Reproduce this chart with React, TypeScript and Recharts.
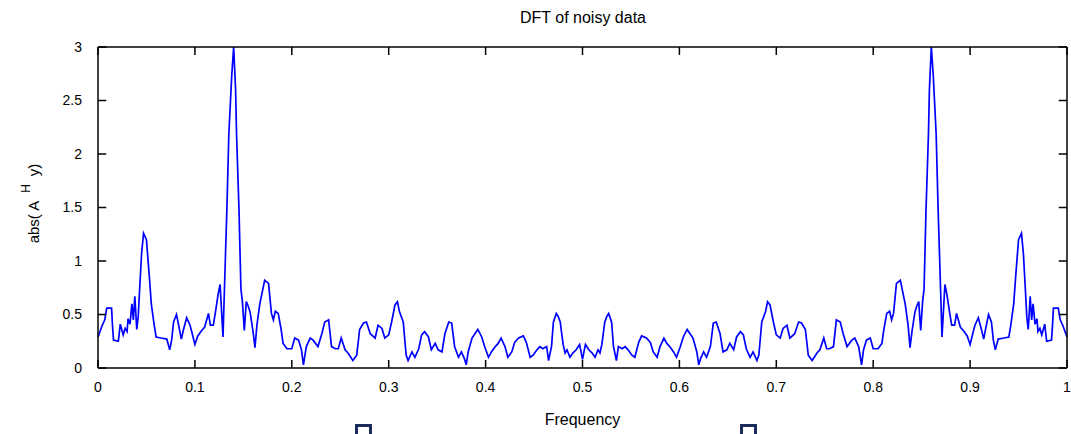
import React from 'react'
import { LineChart, Line, XAxis, YAxis, ReferenceLine } from 'recharts'

// left half of the spectrum (0 .. 0.5)
const freqLeft = [
  0.000, 0.004, 0.007, 0.009, 0.014, 0.015, 0.016, 0.021, 0.023, 0.026,
  0.028, 0.030, 0.031, 0.033, 0.035, 0.0365, 0.038, 0.040, 0.0415, 0.043,
  0.045, 0.047, 0.050, 0.053, 0.055, 0.058, 0.060, 0.065, 0.071, 0.074,
  0.076, 0.078, 0.081, 0.083, 0.086, 0.088, 0.0915, 0.095, 0.097, 0.100,
  0.103, 0.107, 0.110, 0.114, 0.116, 0.119, 0.121, 0.124, 0.126, 0.129,
  0.131, 0.133, 0.135, 0.138, 0.140, 0.142, 0.143, 0.1455, 0.1475, 0.149,
  0.151, 0.153, 0.155, 0.157, 0.160, 0.162, 0.164, 0.167, 0.172, 0.176,
  0.179, 0.181, 0.183, 0.186, 0.189, 0.191, 0.195, 0.200, 0.203, 0.207,
  0.210, 0.212, 0.215, 0.219, 0.222, 0.227, 0.231, 0.234, 0.238, 0.241,
  0.245, 0.248, 0.251, 0.255, 0.258, 0.263, 0.267, 0.270, 0.274, 0.277,
  0.281, 0.286, 0.289, 0.293, 0.296, 0.300, 0.303, 0.3065, 0.309, 0.311,
  0.315, 0.318, 0.320, 0.324, 0.327, 0.331, 0.334, 0.337, 0.341, 0.344,
  0.348, 0.351, 0.355, 0.358, 0.362, 0.365, 0.368, 0.372, 0.375, 0.378,
  0.380, 0.382, 0.386, 0.389, 0.392, 0.396, 0.399, 0.403, 0.406, 0.410,
  0.413, 0.416, 0.420, 0.423, 0.427, 0.430, 0.434, 0.439, 0.442, 0.446,
  0.449, 0.453, 0.456, 0.459, 0.463, 0.465, 0.468, 0.470, 0.473, 0.475,
  0.477, 0.480, 0.482, 0.484, 0.487, 0.490, 0.4935, 0.497, 0.500,
]
const absLeft = [
  0.29, 0.39, 0.45, 0.56, 0.56, 0.39, 0.26, 0.25, 0.41, 0.31,
  0.37, 0.34, 0.46, 0.41, 0.60, 0.45, 0.67, 0.36, 0.48, 0.74,
  1.07, 1.26, 1.20, 0.85, 0.60, 0.40, 0.29, 0.28, 0.27, 0.17,
  0.26, 0.43, 0.50, 0.41, 0.27, 0.35, 0.47, 0.40, 0.33, 0.22,
  0.30, 0.35, 0.38, 0.51, 0.40, 0.40, 0.51, 0.69, 0.78, 0.29,
  0.89, 1.48, 2.18, 2.73, 3.00, 2.60, 2.18, 1.48, 0.74, 0.62,
  0.35, 0.62, 0.58, 0.52, 0.34, 0.19, 0.40, 0.60, 0.82, 0.79,
  0.51, 0.45, 0.53, 0.51, 0.36, 0.23, 0.18, 0.18, 0.28, 0.26,
  0.17, 0.03, 0.20, 0.28, 0.26, 0.20, 0.32, 0.43, 0.45, 0.20,
  0.18, 0.18, 0.28, 0.17, 0.14, 0.07, 0.12, 0.36, 0.42, 0.43,
  0.32, 0.28, 0.40, 0.37, 0.28, 0.31, 0.43, 0.59, 0.62, 0.53,
  0.43, 0.12, 0.07, 0.15, 0.10, 0.18, 0.31, 0.34, 0.29, 0.17,
  0.23, 0.17, 0.15, 0.32, 0.43, 0.42, 0.20, 0.10, 0.15, 0.09,
  0.03, 0.15, 0.28, 0.32, 0.36, 0.29, 0.20, 0.10, 0.15, 0.20,
  0.23, 0.28, 0.20, 0.10, 0.15, 0.24, 0.28, 0.30, 0.24, 0.10,
  0.12, 0.17, 0.20, 0.18, 0.20, 0.07, 0.20, 0.43, 0.51, 0.48,
  0.43, 0.22, 0.14, 0.17, 0.10, 0.14, 0.17, 0.22, 0.08,
]

// right half (0.5 .. 1), the mirror image as seen in the plot
const freqRight = [
  0.503, 0.5065, 0.510, 0.513, 0.516, 0.518, 0.520, 0.523, 0.525, 0.527,
  0.530, 0.532, 0.535, 0.537, 0.541, 0.544, 0.547, 0.551, 0.554, 0.558,
  0.561, 0.566, 0.570, 0.573, 0.577, 0.580, 0.584, 0.587, 0.590, 0.594,
  0.597, 0.601, 0.604, 0.608, 0.611, 0.614, 0.618, 0.620, 0.622, 0.625,
  0.628, 0.632, 0.635, 0.638, 0.642, 0.645, 0.649, 0.652, 0.656, 0.659,
  0.663, 0.666, 0.669, 0.673, 0.676, 0.680, 0.682, 0.685, 0.689, 0.691,
  0.6935, 0.697, 0.700, 0.704, 0.707, 0.711, 0.714, 0.719, 0.723, 0.726,
  0.730, 0.733, 0.737, 0.742, 0.745, 0.749, 0.752, 0.755, 0.759, 0.762,
  0.766, 0.769, 0.773, 0.778, 0.781, 0.785, 0.788, 0.790, 0.793, 0.797,
  0.800, 0.805, 0.809, 0.811, 0.814, 0.817, 0.819, 0.821, 0.824, 0.828,
  0.833, 0.836, 0.838, 0.840, 0.843, 0.845, 0.847, 0.849, 0.851, 0.8525,
  0.8545, 0.857, 0.858, 0.860, 0.862, 0.865, 0.867, 0.869, 0.871, 0.874,
  0.876, 0.879, 0.881, 0.884, 0.886, 0.890, 0.893, 0.897, 0.900, 0.903,
  0.905, 0.9085, 0.912, 0.914, 0.917, 0.919, 0.922, 0.924, 0.926, 0.929,
  0.935, 0.940, 0.942, 0.945, 0.947, 0.950, 0.953, 0.955, 0.957, 0.9585,
  0.960, 0.962, 0.9635, 0.965, 0.967, 0.969, 0.970, 0.972, 0.974, 0.977,
  0.979, 0.984, 0.985, 0.986, 0.991, 0.993, 0.996, 1.000,
]
const absRight = [
  0.22, 0.17, 0.14, 0.10, 0.17, 0.14, 0.22, 0.43, 0.48, 0.51,
  0.43, 0.20, 0.07, 0.20, 0.18, 0.20, 0.17, 0.12, 0.10, 0.24,
  0.30, 0.28, 0.24, 0.15, 0.10, 0.20, 0.28, 0.23, 0.20, 0.15,
  0.10, 0.20, 0.29, 0.36, 0.32, 0.28, 0.15, 0.03, 0.09, 0.15,
  0.10, 0.20, 0.42, 0.43, 0.32, 0.15, 0.17, 0.23, 0.17, 0.29,
  0.34, 0.31, 0.18, 0.10, 0.15, 0.07, 0.12, 0.43, 0.53, 0.62,
  0.59, 0.43, 0.31, 0.28, 0.37, 0.40, 0.28, 0.32, 0.43, 0.42,
  0.36, 0.12, 0.07, 0.14, 0.17, 0.28, 0.18, 0.18, 0.20, 0.45,
  0.43, 0.32, 0.20, 0.26, 0.28, 0.20, 0.03, 0.17, 0.26, 0.28,
  0.18, 0.18, 0.23, 0.36, 0.51, 0.53, 0.45, 0.51, 0.79, 0.82,
  0.60, 0.40, 0.19, 0.34, 0.52, 0.58, 0.62, 0.35, 0.62, 0.74,
  1.48, 2.18, 2.60, 3.00, 2.73, 2.18, 1.48, 0.89, 0.29, 0.78,
  0.69, 0.51, 0.40, 0.40, 0.51, 0.38, 0.35, 0.30, 0.22, 0.33,
  0.40, 0.47, 0.35, 0.27, 0.41, 0.50, 0.43, 0.26, 0.17, 0.27,
  0.28, 0.29, 0.40, 0.60, 0.85, 1.20, 1.26, 1.07, 0.74, 0.48,
  0.36, 0.67, 0.45, 0.60, 0.41, 0.46, 0.34, 0.37, 0.31, 0.41,
  0.25, 0.26, 0.39, 0.56, 0.56, 0.45, 0.39, 0.29,
]

const xTicks = [0, 0.1, 0.2, 0.3, 0.4, 0.5, 0.6, 0.7, 0.8, 0.9, 1]
const yTicks = [0, 0.5, 1, 1.5, 2, 2.5, 3]

const freqs = [...freqLeft, ...freqRight]
const mags = [...absLeft, ...absRight]
const data = freqs.map((f, i) => ({ freq: f, mag: mags[i] }))

const FONT = '"Liberation Sans", Arial, Helvetica, sans-serif'
// inward tick length, in data units (about 8px each way)
const TICK_DX = 0.0085
const TICK_DY = 0.075

const YLabel = ({ viewBox }: any) => {
  const cx = 39
  const cy = viewBox.y + viewBox.height / 2 - 4
  return (
    <text
      x={cx}
      y={cy}
      transform={`rotate(-90, ${cx}, ${cy})`}
      textAnchor="middle"
      fontSize={15}
      fontFamily={FONT}
      fill="#000"
    >
      abs( A
      <tspan dx={8} dy={-9} fontSize={12}>H</tspan>
      <tspan dx={8} dy={9}>y)</tspan>
    </text>
  )
}

const XLabel = ({ viewBox }: any) => (
  <text
    x={viewBox.x + viewBox.width / 2}
    y={viewBox.y + 57}
    textAnchor="middle"
    fontSize={16}
    fontFamily={FONT}
    fill="#000"
  >
    Frequency
  </text>
)

const squareStyle: React.CSSProperties = {
  position: 'absolute',
  top: 424,
  width: 11,
  height: 14,
  border: '3px solid #1b2b5c',
  background: '#fff',
}

const boxProps = { stroke: '#000', strokeWidth: 1.5, ifOverflow: 'visible' as const }

export default function App() {
  return (
    <div
      style={{
        position: 'absolute',
        left: 0,
        top: 0,
        width: 1071,
        height: 434,
        overflow: 'hidden',
        background: '#fff',
        fontFamily: FONT,
      }}
    >
      <div
        style={{
          position: 'absolute',
          left: 0,
          width: 1166,
          top: 9,
          textAlign: 'center',
          fontSize: 16,
          color: '#000',
        }}
      >
        DFT of noisy data
      </div>
      <LineChart
        width={1071}
        height={434}
        data={data}
        margin={{ top: 47, right: 4, bottom: 6, left: 38 }}
      >
        <XAxis
          dataKey="freq"
          type="number"
          domain={[0, 1]}
          ticks={xTicks}
          height={60}
          stroke="#000"
          strokeWidth={1.5}
          tickLine={false}
          tickMargin={8}
          tick={{ fontSize: 14, fontFamily: FONT, fill: '#000' }}
          label={<XLabel />}
        />
        <YAxis
          type="number"
          domain={[0, 3]}
          ticks={yTicks}
          width={60}
          stroke="#000"
          strokeWidth={1.5}
          tickLine={false}
          tickMargin={10}
          tick={{ fontSize: 14, fontFamily: FONT, fill: '#000' }}
          label={<YLabel />}
        />
        <Line
          type="linear"
          dataKey="mag"
          stroke="#0000ff"
          strokeWidth={1.7}
          dot={false}
          isAnimationActive={false}
        />
        {/* box: top and right edges */}
        <ReferenceLine y={3} {...boxProps} />
        <ReferenceLine x={1} {...boxProps} />
        {/* inward tick marks on all four sides */}
        {xTicks.map((t) => (
          <ReferenceLine
            key={`tb${t}`}
            segment={[{ x: t, y: 0 }, { x: t, y: TICK_DY }]}
            {...boxProps}
          />
        ))}
        {xTicks.map((t) => (
          <ReferenceLine
            key={`tt${t}`}
            segment={[{ x: t, y: 3 }, { x: t, y: 3 - TICK_DY }]}
            {...boxProps}
          />
        ))}
        {yTicks.map((t) => (
          <ReferenceLine
            key={`tl${t}`}
            segment={[{ x: 0, y: t }, { x: TICK_DX, y: t }]}
            {...boxProps}
          />
        ))}
        {yTicks.map((t) => (
          <ReferenceLine
            key={`tr${t}`}
            segment={[{ x: 1, y: t }, { x: 1 - TICK_DX, y: t }]}
            {...boxProps}
          />
        ))}
      </LineChart>
      <div style={{ ...squareStyle, left: 355 }} />
      <div style={{ ...squareStyle, left: 740 }} />
    </div>
  )
}
